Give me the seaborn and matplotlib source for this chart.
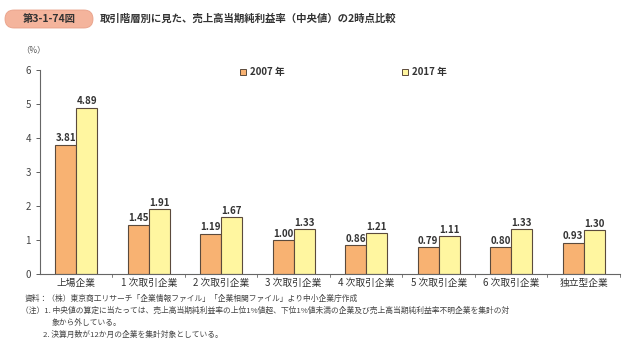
import pandas as pd
import matplotlib.pyplot as plt
import seaborn as sns
from matplotlib.patches import FancyBboxPatch

# Data
categories = ["上場企業", "1 次取引企業", "2 次取引企業", "3 次取引企業",
              "4 次取引企業", "5 次取引企業", "6 次取引企業", "独立型企業"]
values_2007 = [3.81, 1.45, 1.19, 1.00, 0.86, 0.79, 0.80, 0.93]
values_2017 = [4.89, 1.91, 1.67, 1.33, 1.21, 1.11, 1.33, 1.30]
years = ["2007 年", "2017 年"]

df = pd.DataFrame({
    "category": categories * 2,
    "value": values_2007 + values_2017,
    "year": [years[0]] * len(categories) + [years[1]] * len(categories),
})

sns.set_theme(style="white")
plt.rcParams["font.family"] = ["Noto Sans CJK JP", "DejaVu Sans"]

fig = plt.figure(figsize=(6.4, 3.52), dpi=100)
ax = fig.add_axes([0.0625, 0.221, 0.906, 0.58])

orange, yellow, edge = "#f8b272", "#fff6a0", "#5b4a3c"
ax = sns.barplot(data=df, x="category", y="value", hue="year",
                 palette=[orange, yellow], saturation=1, edgecolor=edge,
                 linewidth=0.8, width=0.58, gap=0, ax=ax, legend=False)

for cont in ax.containers:
    ax.bar_label(cont, fmt="%.2f", fontsize=7, fontweight="bold",
                 color="#333333", padding=1)

ax.set_ylim(0, 6)
ax.set_xlim(-0.5, len(categories) - 0.5)
ax.set_yticks(range(0, 7))
ax.set_xlabel("")
ax.set_ylabel("")
for s in ["top", "right"]:
    ax.spines[s].set_visible(False)
for s in ["left", "bottom"]:
    ax.spines[s].set_color("#666666")
    ax.spines[s].set_linewidth(0.8)
ax.tick_params(axis="y", labelsize=7, colors="#444444", length=3, width=0.6,
               direction="out", left=True)
ax.tick_params(axis="x", labelsize=7, colors="#333333", length=0, pad=3)
for i in range(len(categories)):
    ax.plot([i + 0.5, i + 0.5], [0, -0.08], color="#666666", lw=0.6,
            clip_on=False)

# legend
for xpos, lab, col in [(0.375, years[0], orange), (0.628, years[1], yellow)]:
    fig.patches.append(plt.Rectangle((xpos, 0.787), 0.009, 0.017,
                                     transform=fig.transFigure,
                                     facecolor=col, edgecolor=edge, lw=0.7))
    fig.text(xpos + 0.015, 0.795, lab, fontsize=7, fontweight="bold",
             va="center", color="#333333")

# title pill (in inches)
pill = FancyBboxPatch((0.05, 3.24), 0.88, 0.18,
                      boxstyle="round,pad=0,rounding_size=0.09",
                      transform=fig.dpi_scale_trans, facecolor="#f4b49c",
                      edgecolor="#e8a088", lw=0.6)
fig.patches.append(pill)
fig.text(0.077, 0.946, "第3-1-74図", fontsize=7.5, fontweight="bold",
         ha="center", va="center", color="#333333")
fig.text(0.156, 0.946, "取引階層別に見た、売上高当期純利益率（中央値）の2時点比較",
         fontsize=7.5, fontweight="bold", ha="left", va="center", color="#333333")
fig.text(0.033, 0.858, "（%）", fontsize=6, color="#555555", va="center")

notes = [
    (0.038, 0.151, "資料：（株）東京商工リサーチ「企業情報ファイル」「企業相関ファイル」より中小企業庁作成"),
    (0.033, 0.117, "（注）1. 中央値の算定に当たっては、売上高当期純利益率の上位1%値超、下位1%値未満の企業及び売上高当期純利益率不明企業を集計の対"),
    (0.081, 0.083, "象から外している。"),
    (0.067, 0.049, "2. 決算月数が12か月の企業を集計対象としている。"),
]
for x, y, t in notes:
    fig.text(x, y, t, fontsize=5.6, color="#444444", va="center")

fig.savefig("out.png", dpi=100)
